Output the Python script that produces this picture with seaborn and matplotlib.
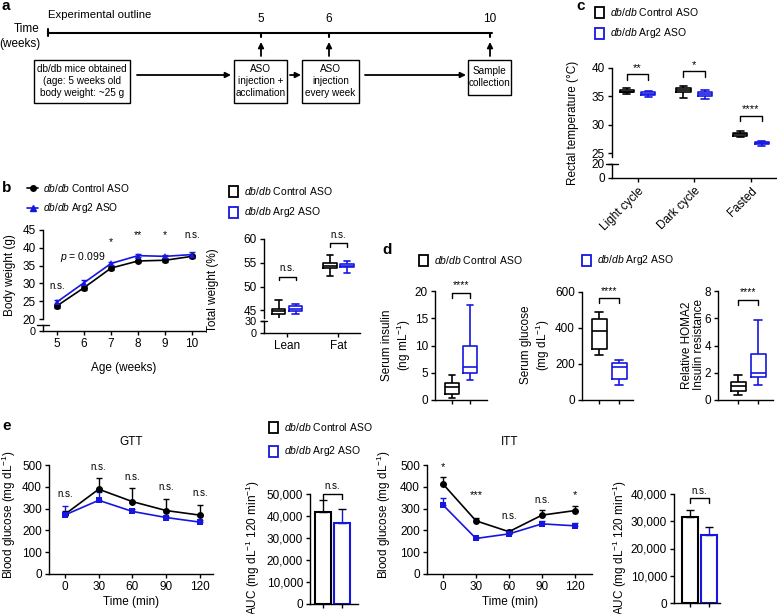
import numpy as np
import pandas as pd
import matplotlib
matplotlib.use("Agg")
import matplotlib.pyplot as plt
import seaborn as sns
from matplotlib.patches import Rectangle

# ---------------- data ----------------
groups = ["Control", "Arg2"]
weeks = [5, 6, 7, 8, 9, 10]
bw_ctrl = [23.7, 28.8, 34.3, 36.3, 36.5, 37.6]
bw_ctrl_err = [0.6, 0.6, 0.5, 0.4, 0.4, 0.4]
bw_arg2 = [24.8, 30.2, 35.6, 37.8, 37.6, 38.1]
bw_arg2_err = [0.6, 0.7, 0.5, 0.4, 0.4, 0.8]
bw_sig = ["n.s.", "p = 0.099", "*", "**", "*", "n.s."]

tissues = ["Lean", "Fat"]
# five-number summaries: min, q1, median, q3, max
lean_ctrl = [43.1, 44.3, 44.8, 45.3, 47.1]
lean_arg2 = [44.2, 44.8, 45.3, 45.8, 46.4]
fat_ctrl = [52.2, 53.8, 54.3, 54.9, 56.7]
fat_arg2 = [52.8, 54.0, 54.3, 54.8, 55.4]

conditions = ["Light cycle", "Dark cycle", "Fasted"]
temp_ctrl = [[35.5, 35.7, 35.85, 36.05, 36.5], [34.7, 35.8, 36.1, 36.5, 36.9], [27.8, 28.05, 28.3, 28.55, 28.9]]
temp_arg2 = [[34.9, 35.25, 35.45, 35.7, 35.9], [34.6, 35.1, 35.4, 35.75, 36.1], [26.3, 26.55, 26.8, 27.0, 27.2]]
temp_sig = ["**", "*", "****"]

insulin_ctrl = [0.3, 1.1, 2.3, 3.2, 4.6]
insulin_arg2 = [3.7, 5.0, 6.1, 10.0, 17.5]
glucose_ctrl = [250, 285, 385, 450, 490]
glucose_arg2 = [85, 118, 185, 207, 222]
homa_ctrl = [0.4, 0.65, 1.0, 1.3, 1.8]
homa_arg2 = [1.1, 1.7, 2.0, 3.4, 5.9]

times = [0, 30, 60, 90, 120]
gtt_ctrl = [274, 389, 332, 291, 270]
gtt_ctrl_err = [15, 53, 64, 52, 47]
gtt_arg2 = [271, 338, 287, 259, 238]
gtt_arg2_err = [41, 40, 10, 9, 10]
gtt_sig = ["n.s.", "n.s.", "n.s.", "n.s.", "n.s."]
gtt_auc = [42000, 37000]
gtt_auc_err = [5300, 6300]

itt_ctrl = [413, 244, 194, 270, 291]
itt_ctrl_err = [31, 12, 6, 24, 23]
itt_arg2 = [317, 163, 184, 230, 221]
itt_arg2_err = [31, 9, 8, 14, 15]
itt_sig = ["*", "***", "n.s.", "n.s.", "*"]
itt_auc = [31500, 25100]
itt_auc_err = [2600, 2700]

BLUE = "#1616e0"
pal = {"Control": "black", "Arg2": BLUE}

# ---------------- style ----------------
sns.set_theme(style="ticks")
plt.rcParams["font.family"] = ["Liberation Sans", "DejaVu Sans"]
plt.rcParams.update({
    "mathtext.fontset": "custom",
    "mathtext.rm": "Liberation Sans",
    "mathtext.it": "Liberation Sans:italic",
    "mathtext.bf": "Liberation Sans:bold",
    "axes.linewidth": 1.0,
    "xtick.major.width": 1.0, "ytick.major.width": 1.0,
    "xtick.major.size": 3, "ytick.major.size": 3,
    "xtick.major.pad": 2, "ytick.major.pad": 2,
    "xtick.labelsize": 8.5, "ytick.labelsize": 8.5,
    "axes.labelsize": 8.5,
    "axes.edgecolor": "black", "xtick.color": "black", "ytick.color": "black",
    "text.color": "black",
})

W, H = 777, 614
fig = plt.figure(figsize=(W / 100, H / 100), dpi=100)

ov = fig.add_axes([0, 0, 1, 1])
ov.set_xlim(0, W)
ov.set_ylim(H, 0)
ov.axis("off")


def pax(l, t, r, b):
    ax = fig.add_axes([l / W, 1 - b / H, (r - l) / W, (b - t) / H])
    ax.set_facecolor("none")
    sns.despine(ax=ax)
    return ax


def T(x, y, s, **kw):
    kw.setdefault("ha", "center")
    kw.setdefault("va", "center")
    kw.setdefault("fontsize", 8.5)
    ov.text(x, y, s, **kw)


def legend_sq(x, y, color, label, fs=7.5):
    ov.add_patch(Rectangle((x, y - 5.5), 9, 11, fill=False, ec=color, lw=1.3))
    ov.text(x + 15, y, label, ha="left", va="center", fontsize=fs)


def bracket(ax, x0, x1, y, leg, text, ty, fs=7):
    ax.plot([x0, x0, x1, x1], [y - leg, y, y, y - leg], color="black", lw=1, clip_on=False)
    ax.text((x0 + x1) / 2, ty, text, ha="center", va="center", fontsize=fs, clip_on=False)


def break_mark(ax):
    ax.plot([-0.035, 0.035], [1, 1], transform=ax.transAxes, color="black", lw=1, clip_on=False)


def five_df(stats, labels, key="v"):
    rows = []
    for st, lab in zip(stats, labels):
        for v in st:
            rows.append({**lab, key: v})
    return pd.DataFrame(rows)


CTRL = r"$\it{db/db}$ Control ASO"
ARG2 = r"$\it{db/db}$ Arg2 ASO"

# ---------------- panel letters ----------------
for s, x, y in [("a", 2, 6), ("b", 2, 188), ("c", 576, 6), ("d", 382, 250), ("e", 2, 426)]:
    T(x, y, s, ha="left", fontsize=11, fontweight="bold")

# ---------------- panel a ----------------
T(48, 15, "Experimental outline", ha="left", fontsize=8.2)
T(40, 29, "Time", ha="right")
T(40, 44, "(weeks)", ha="right")
ov.plot([48, 492], [33, 33], color="black", lw=1.5)
ov.plot([48, 48], [29, 36], color="black", lw=1.5)
for x, s in [(261, "5"), (329, "6"), (490, "10")]:
    ov.plot([x, x], [33, 37], color="black", lw=1.5)
    T(x, 19, s)
    ov.annotate("", xy=(x, 42), xytext=(x, 56),
                arrowprops=dict(arrowstyle="-|>", lw=1.3, color="black", mutation_scale=8,
                                shrinkA=0, shrinkB=0))


def flow_box(x0, y0, x1, y1, text):
    ov.add_patch(Rectangle((x0, y0), x1 - x0, y1 - y0, fill=False, ec="black", lw=1))
    ov.text((x0 + x1) / 2, (y0 + y1) / 2, text, ha="center", va="center", fontsize=7.2, linespacing=1.25)


flow_box(34, 60, 130, 103, "db/db mice obtained\n(age: 5 weeks old\nbody weight: ~25 g")
flow_box(234, 60, 287, 103, "ASO\ninjection +\nacclimation")
flow_box(302, 60, 359, 103, "ASO\ninjection\nevery week")
flow_box(468, 60, 511, 95, "Sample\ncollection")
for x0, x1 in [(137, 231), (290, 301), (365, 466)]:
    ov.annotate("", xy=(x1, 75), xytext=(x0, 75),
                arrowprops=dict(arrowstyle="-|>", lw=1.3, color="black", mutation_scale=8,
                                shrinkA=0, shrinkB=0))

# ---------------- panel b: body weight ----------------
ov.plot([27, 38], [188, 188], color="black", lw=1.2)
ov.plot([32.5], [188], "o", color="black", ms=4)
ov.text(43, 188, CTRL, ha="left", va="center", fontsize=7.3)
ov.plot([27, 38], [208, 208], color=BLUE, lw=1.2)
ov.plot([32.5], [208], "^", color=BLUE, ms=4.5)
ov.text(43, 208, ARG2, ha="left", va="center", fontsize=7.3)

axb = pax(43, 230, 205, 319)
df_bw = pd.DataFrame({"Age": weeks * 2, "Weight": bw_ctrl + bw_arg2,
                      "Group": ["Control"] * 6 + ["Arg2"] * 6})
axb.errorbar(weeks, bw_ctrl, yerr=bw_ctrl_err, fmt="none", ecolor="black", elinewidth=1, capsize=2, zorder=1)
axb.errorbar(weeks, bw_arg2, yerr=bw_arg2_err, fmt="none", ecolor=BLUE, elinewidth=1, capsize=2, zorder=1)
sns.lineplot(data=df_bw, x="Age", y="Weight", hue="Group", style="Group",
             markers={"Control": "o", "Arg2": "^"}, dashes=False, palette=pal,
             ax=axb, legend=False, markersize=5, linewidth=1.2, markeredgewidth=0)
axb.set_xlim(4.48, 10.48)
axb.set_ylim(20, 45)
axb.set_yticks([20, 25, 30, 35, 40, 45])
axb.spines["bottom"].set_visible(False)
axb.tick_params(axis="x", bottom=False, labelbottom=False)
axb.set_xlabel("")
axb.set_ylabel("")
sig_y = [29.3, 37.4, 41.7, 43.6, 43.5, 43.6]
for x, s, y in zip(weeks, bw_sig, sig_y):
    if s.startswith("p"):
        axb.text(5.96, y, r"$\it{p}$ = 0.099", ha="center", va="center", fontsize=7.5)
    else:
        axb.text(x, y, s, ha="center", va="center", fontsize=7.5 if "*" in s else 7)

axb2 = pax(43, 325, 205, 331)
axb2.set_xlim(4.48, 10.48)
axb2.set_ylim(0, 1)
axb2.set_yticks([0])
axb2.set_xticks(weeks)
axb2.tick_params(axis="y", labelsize=7.8)
break_mark(axb2)
T(10, 275, "Body weight (g)", rotation=90)
T(124, 368, "Age (weeks)")

# ---------------- panel b: body composition ----------------
legend_sq(229, 191, "black", CTRL)
legend_sq(229, 212, BLUE, ARG2)
axbb = pax(264, 239, 360, 318)
df_comp = five_df([lean_ctrl, lean_arg2, fat_ctrl, fat_arg2],
                  [{"Tissue": "Lean", "Group": "Control"}, {"Tissue": "Lean", "Group": "Arg2"},
                   {"Tissue": "Fat", "Group": "Control"}, {"Tissue": "Fat", "Group": "Arg2"}])
sns.boxplot(data=df_comp, x="Tissue", y="v", hue="Group", order=tissues, hue_order=groups,
            palette=pal, fill=False, whis=(0, 100), width=0.66, gap=0.2, linewidth=1.2,
            ax=axbb, legend=False)
axbb.set_xlim(-0.45, 1.42)
axbb.set_ylim(60 - 79 / 4.75, 60)
axbb.set_yticks([45, 50, 55, 60])
axbb.spines["bottom"].set_visible(False)
axbb.tick_params(axis="x", bottom=False, labelbottom=False)
axbb.set_xlabel("")
axbb.set_ylabel("")
bracket(axbb, -0.165, 0.165, 52.1, 0.8, "n.s.", 53.8)
bracket(axbb, 0.835, 1.165, 59.2, 0.8, "n.s.", 60.9)
axbb2 = pax(264, 321, 360, 333)
axbb2.set_xlim(-0.45, 1.42)
axbb2.set_ylim(0, 30)
axbb2.set_yticks([0, 30])
axbb2.set_xticks([0, 1])
axbb2.set_xticklabels(tissues)
axbb2.tick_params(axis="y", labelsize=7.8)
break_mark(axbb2)
T(213, 290, "Total weight (%)", rotation=90)

# ---------------- panel c ----------------
legend_sq(595, 12, "black", CTRL)
legend_sq(595, 33, BLUE, ARG2)
axc = pax(612, 68, 777, 157)
rows = []
for i, c in enumerate(conditions):
    rows.append((temp_ctrl[i], {"Cond": c, "Group": "Control"}))
    rows.append((temp_arg2[i], {"Cond": c, "Group": "Arg2"}))
df_t = five_df([r[0] for r in rows], [r[1] for r in rows])
sns.boxplot(data=df_t, x="Cond", y="v", hue="Group", order=conditions, hue_order=groups,
            palette=pal, fill=False, whis=(0, 100), width=0.76, gap=0.34, linewidth=1.2,
            ax=axc, legend=False)
axc.set_xlim(-0.45, 2.46)
axc.set_ylim(40 - 89 / 5.667, 40)
axc.set_yticks([25, 30, 35, 40])
axc.spines["bottom"].set_visible(False)
axc.tick_params(axis="x", bottom=False, labelbottom=False)
axc.set_xlabel("")
axc.set_ylabel("")
bracket(axc, -0.19, 0.19, 38.9, 1.0, temp_sig[0], 39.9, fs=8)
bracket(axc, 0.81, 1.19, 39.5, 1.0, temp_sig[1], 40.6, fs=8)
bracket(axc, 1.81, 2.19, 31.6, 0.9, temp_sig[2], 32.7, fs=8)
axc2 = pax(612, 164, 777, 178)
axc2.set_xlim(-0.45, 2.46)
axc2.set_ylim(0, 20)
axc2.set_yticks([0, 20])
axc2.set_xticks([0, 1, 2])
axc2.set_xticklabels(conditions, rotation=45, ha="right", rotation_mode="anchor")
break_mark(axc2)
T(573, 123, "Rectal temperature (°C)", rotation=90)

# ---------------- panel d ----------------
legend_sq(419, 260, "black", CTRL)
legend_sq(582, 260, BLUE, ARG2)


def dbox(box, ctrl, arg2, ylim, yticks, xlim, sig_y, leg, ty, label, lx):
    ax = pax(*box)
    df = five_df([ctrl, arg2], [{"Group": "Control"}, {"Group": "Arg2"}])
    sns.boxplot(data=df, x="Group", y="v", hue="Group", order=groups, hue_order=groups,
                palette=pal, fill=False, whis=(0, 100), width=0.75, linewidth=1.2,
                ax=ax, legend=False)
    ax.set_xlim(*xlim)
    ax.set_ylim(*ylim)
    ax.set_yticks(yticks)
    ax.set_xticks([0, 1])
    ax.set_xticklabels([])
    ax.set_xlabel("")
    ax.set_ylabel("")
    bracket(ax, 0, 1, sig_y, leg, "****", ty, fs=7.5)
    T(lx, 345, label, rotation=90, linespacing=1.1)
    return ax


dbox((435, 291, 487, 400), insulin_ctrl, insulin_arg2, (0, 20), [0, 5, 10, 15, 20], (-0.94, 1.94),
     19.7, 0.9, 21.0, "Serum insulin\n(ng mL$^{-1}$)", 397)
dbox((582, 292, 633, 400), glucose_ctrl, glucose_arg2, (0, 600), [0, 200, 400, 600], (-0.85, 1.7),
     565, 26, 603, "Serum glucose\n(mg dL$^{-1}$)", 536)
dbox((718, 291, 773, 400), homa_ctrl, homa_arg2, (0, 8), [0, 2, 4, 6, 8], (-1.0, 1.75),
     7.35, 0.37, 7.9, "Relative HOMA2\nInsulin resistance", 693)

# ---------------- panel e ----------------
legend_sq(269, 427, "black", CTRL)
legend_sq(269, 451, BLUE, ARG2)


def tol_plot(box, xlim, ctrl, ctrl_err, arg2, arg2_err, sigs, sig_y, title, tx, lx):
    ax = pax(*box)
    zeros = [0] * len(times)
    ax.errorbar(times, ctrl, yerr=[zeros, ctrl_err], fmt="none", ecolor="black", elinewidth=1, capsize=2.5, zorder=1)
    ax.errorbar(times, arg2, yerr=[zeros, arg2_err], fmt="none", ecolor=BLUE, elinewidth=1, capsize=2.5, zorder=1)
    df = pd.DataFrame({"Time": times * 2, "Glucose": ctrl + arg2,
                       "Group": ["Control"] * 5 + ["Arg2"] * 5})
    sns.lineplot(data=df, x="Time", y="Glucose", hue="Group", style="Group",
                 markers={"Control": "o", "Arg2": "s"}, dashes=False, palette=pal,
                 ax=ax, legend=False, markersize=5, linewidth=1.2, markeredgewidth=0)
    ax.set_xlim(*xlim)
    ax.set_ylim(0, 500)
    ax.set_xticks(times)
    ax.set_yticks([0, 100, 200, 300, 400, 500])
    ax.set_xlabel("")
    ax.set_ylabel("")
    for x, s, y in zip(times, sigs, sig_y):
        ax.text(x, y, s, ha="center", va="center", fontsize=8 if "*" in s else 7, clip_on=False)
    T(tx, 442, title)
    T(tx, 602, "Time (min)")
    T(lx, 515, "Blood glucose (mg dL$^{-1}$)", rotation=90)
    return ax


tol_plot((49, 465, 213, 574), (-14.2, 131.6), gtt_ctrl, gtt_ctrl_err, gtt_arg2, gtt_arg2_err,
         gtt_sig, [366, 492, 447, 401, 370], "GTT", 131, 9)
tol_plot((427, 465, 592, 574), (-14.5, 135.5), itt_ctrl, itt_ctrl_err, itt_arg2, itt_arg2_err,
         itt_sig, [492, 363, 264, 340, 363], "ITT", 510, 384)


def auc_plot(box, vals, errs, xlim, ylim, yticks, sig_y, leg, ty, lx):
    ax = pax(*box)
    df = pd.DataFrame({"Group": groups, "AUC": vals})
    ax.errorbar([0, 1], vals, yerr=[[0, 0], errs], fmt="none", ecolor="black", elinewidth=1, capsize=3, zorder=1)
    sns.barplot(data=df, x="Group", y="AUC", hue="Group", order=groups, hue_order=groups,
                palette=pal, fill=False, width=0.8, linewidth=1.5, ax=ax, legend=False, errorbar=None)
    for coll in ax.collections:
        coll.set_color(["black", BLUE])
    for ln in ax.lines:
        ln.set_color("black")
    ax.set_xlim(*xlim)
    ax.set_ylim(*ylim)
    ax.set_yticks(yticks)
    ax.yaxis.set_major_formatter(matplotlib.ticker.StrMethodFormatter("{x:,.0f}"))
    ax.set_xticks([0, 1])
    ax.set_xticklabels([])
    ax.set_xlabel("")
    ax.set_ylabel("")
    bracket(ax, 0, 1, sig_y, leg, "n.s.", ty)
    T(lx, 548, "AUC (mg dL$^{-1}$ 120 min$^{-1}$)", rotation=90)
    return ax


auc_plot((310, 494, 358, 604), gtt_auc, gtt_auc_err, (-0.68, 1.84), (0, 50000),
         [0, 10000, 20000, 30000, 40000, 50000], 49900, 2000, 53700, 253)
auc_plot((674, 494, 720, 603), itt_auc, itt_auc_err, (-0.84, 1.58), (0, 40000),
         [0, 10000, 20000, 30000, 40000], 38600, 1900, 41000, 620)

fig.savefig("out.png", dpi=100)
